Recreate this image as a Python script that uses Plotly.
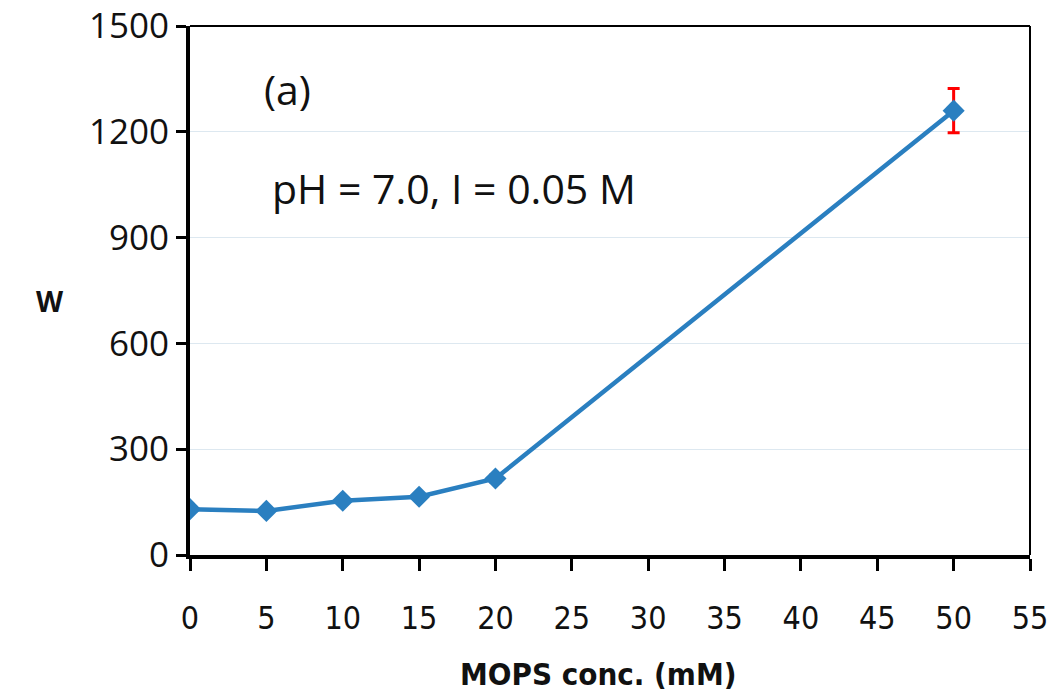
import plotly.graph_objects as go

conc = [0, 5, 10, 15, 20, 50]
w_vals = [130, 125, 154, 165, 217, 1260]
w_err = [6, 6, 8, 6, 10, 63]
x_ticks = [0, 5, 10, 15, 20, 25, 30, 35, 40, 45, 50, 55]
y_ticks = [0, 300, 600, 900, 1200, 1500]

COND = "DejaVu Sans Condensed, Roboto Condensed, Liberation Sans Narrow, Roboto, sans-serif"

fig = go.Figure()
fig.add_trace(go.Scatter(
    x=conc, y=w_vals, mode="lines+markers",
    line=dict(color="#2a7fc0", width=4.5),
    marker=dict(symbol="diamond", size=17, color="#2a7fc0"),
    error_y=dict(type="data", array=w_err, visible=True, color="red", thickness=3, width=6),
    showlegend=False,
))

fig.update_layout(
    width=1056, height=693,
    margin=dict(l=190, r=26, t=26, b=138),
    paper_bgcolor="white", plot_bgcolor="white",
    xaxis=dict(
        range=[0, 55], tickvals=x_ticks, ticktext=[str(v) for v in x_ticks],
        showgrid=False, zeroline=False, automargin=False,
        showline=True, linecolor="black", linewidth=4,
        ticks="outside", ticklen=12, tickwidth=3, tickcolor="black",
        ticklabelstandoff=20, ticklabeloverflow="allow",
        tickfont=dict(family=COND, size=32, color="#111"),
    ),
    yaxis=dict(
        range=[0, 1500], tickvals=y_ticks, automargin=False,
        showgrid=True, gridcolor="#dde8f0", gridwidth=1, zeroline=False,
        showline=True, linecolor="black", linewidth=4,
        ticks="outside", ticklen=10, tickwidth=3, tickcolor="black",
        ticklabeloverflow="allow",
        tickfont=dict(family="Open Sans", size=35, color="#111"),
    ),
    shapes=[
        dict(type="line", xref="paper", yref="paper", x0=0, x1=1, y0=1, y1=1, line=dict(color="black", width=2)),
        dict(type="line", xref="paper", yref="paper", x0=1, x1=1, y0=0, y1=1, line=dict(color="black", width=2)),
    ],
    annotations=[
        dict(x=0.0857, y=0.88, xref="paper", yref="paper", text="(a)", showarrow=False,
             xanchor="left", yanchor="middle", font=dict(family="Open Sans", size=41, color="#111")),
        dict(x=0.095, y=0.694, xref="paper", yref="paper", text="pH = 7.0, I = 0.05 M", showarrow=False,
             xanchor="left", yanchor="middle", font=dict(family="Open Sans", size=41, color="#111")),
        dict(x=-0.1667, y=0.481, xref="paper", yref="paper", text="<b>W</b>", showarrow=False,
             xanchor="center", yanchor="middle", font=dict(family="Open Sans", size=28, color="#111")),
        dict(x=0.486, y=-0.2245, xref="paper", yref="paper", text="<b>MOPS conc. (mM)</b>", showarrow=False,
             xanchor="center", yanchor="middle", font=dict(family=COND, size=31, color="#111")),
    ],
)

fig.write_html("out.html")
